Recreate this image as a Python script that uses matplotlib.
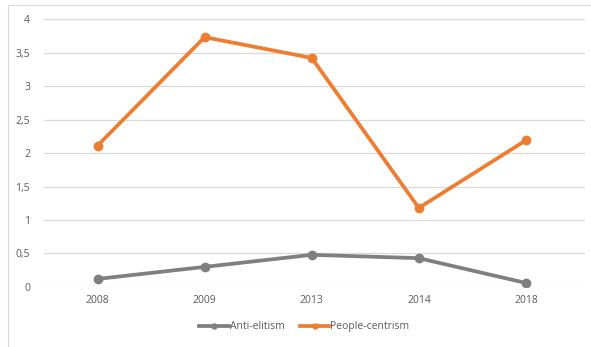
import numpy as np
import matplotlib
matplotlib.use("Agg")
import matplotlib.pyplot as plt
from matplotlib.patches import Rectangle
from matplotlib.ticker import FuncFormatter

years = ["2008", "2009", "2013", "2014", "2018"]
anti_elitism = [0.12, 0.30, 0.48, 0.43, 0.06]
people_centrism = [2.11, 3.73, 3.42, 1.18, 2.19]

ORANGE = "#ED7D31"
GREY = "#7F7F7F"
GRID = "#D9D9D9"
TXT = "#595959"

plt.rcParams['font.family'] = ['Open Sans', 'DejaVu Sans']

fig = plt.figure(figsize=(5.91, 3.47), dpi=100)
ax = fig.add_axes([0.0745, 0.173, 0.915, 0.772])

# light frame around the chart area
fig.patches.append(Rectangle((8 / 591, -0.01), 1.0, 1 - 5 / 347 + 0.01,
                             transform=fig.transFigure, fill=False,
                             edgecolor=GRID, linewidth=0.8))

x = np.arange(len(years))
ax.plot(x, anti_elitism, color=GREY, lw=2.7, marker="o", ms=6,
        label="Anti-elitism", zorder=3)
ax.plot(x, people_centrism, color=ORANGE, lw=2.7, marker="o", ms=6,
        label="People-centrism", zorder=3)

ax.set_xlim(-0.5, len(years) - 0.45)
ax.set_ylim(0, 4)
ax.set_yticks(np.arange(0, 4.01, 0.5))
ax.yaxis.set_major_formatter(FuncFormatter(
    lambda v, p: ("%g" % v).replace(".", ",")))
ax.set_xticks(x)
ax.set_xticklabels(years)
ax.grid(axis="y", color=GRID, lw=0.9)
ax.set_axisbelow(True)
for s in ax.spines.values():
    s.set_visible(False)
ax.tick_params(length=0, labelsize=7.5, colors=TXT, pad=10)
ax.tick_params(axis="x", pad=6)

leg = fig.legend(loc="center", bbox_to_anchor=(0.515, 0.058), ncol=2,
                 frameon=False, fontsize=7.5, handlelength=2.8,
                 markerscale=0.6, columnspacing=1.5, handletextpad=0.1)
for t in leg.get_texts():
    t.set_color(TXT)

fig.savefig("out.png", dpi=100)
